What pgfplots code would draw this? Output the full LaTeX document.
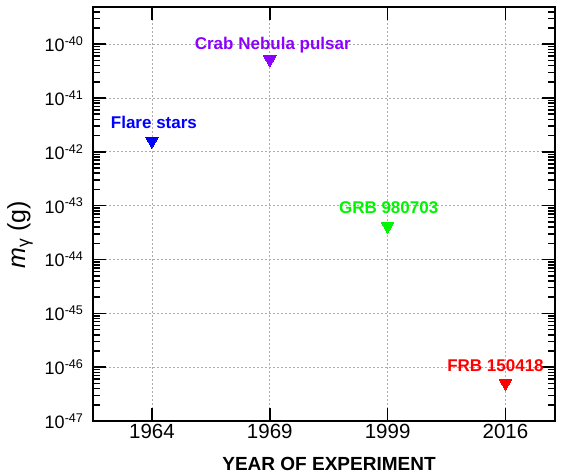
\documentclass[border=0pt]{standalone}
\usepackage{fontspec}
\setmainfont{Liberation Sans}
\usepackage{pgfplots}
\pgfplotsset{compat=1.18}
\definecolor{cflare}{RGB}{0,0,255}
\definecolor{ccrab}{RGB}{140,0,255}
\definecolor{cgrb}{RGB}{0,245,0}
\definecolor{cfrb}{RGB}{255,0,0}
\begin{document}
\begin{tikzpicture}
\useasboundingbox (0,0) rectangle (566pt,473pt);
\begin{axis}[
  at={(93pt,52pt)}, anchor=south west,
  scale only axis, width=462pt, height=414pt,
  ymode=log,
  xmin=0.5, xmax=4.42,
  ymin=1e-47, ymax=4.9e-40,
  xtick={1,2,3,4},
  xticklabels={1964,1969,1999,2016},
  ytick={1e-47,1e-46,1e-45,1e-44,1e-43,1e-42,1e-41,1e-40},
  yticklabels={10\textsuperscript{-47},10\textsuperscript{-46},10\textsuperscript{-45},10\textsuperscript{-44},10\textsuperscript{-43},10\textsuperscript{-42},10\textsuperscript{-41},10\textsuperscript{-40}},
  minor ytick={2e-47,3e-47,4e-47,5e-47,6e-47,7e-47,8e-47,9e-47,
               2e-46,3e-46,4e-46,5e-46,6e-46,7e-46,8e-46,9e-46,
               2e-45,3e-45,4e-45,5e-45,6e-45,7e-45,8e-45,9e-45,
               2e-44,3e-44,4e-44,5e-44,6e-44,7e-44,8e-44,9e-44,
               2e-43,3e-43,4e-43,5e-43,6e-43,7e-43,8e-43,9e-43,
               2e-42,3e-42,4e-42,5e-42,6e-42,7e-42,8e-42,9e-42,
               2e-41,3e-41,4e-41,5e-41,6e-41,7e-41,8e-41,9e-41,
               2e-40,3e-40,4e-40},
  tick align=inside,
  xtick pos=both, ytick pos=both,
  major tick length=13pt, minor tick length=7pt,
  every tick/.style={black, line width=1.6pt},
  axis line style={line width=2pt},
  grid=major,
  major grid style={gray!65, line width=0.8pt, dash pattern=on 2pt off 2pt},
  xticklabel style={font=\fontsize{20.5}{22}\selectfont},
  yticklabel style={font=\fontsize{18}{20}\selectfont, xshift=-6pt},
  xlabel={YEAR OF EXPERIMENT},
  xlabel style={font=\fontsize{19}{21}\selectfont\bfseries, at={(axis description cs:0.5,0)}, anchor=base, yshift=-49.5pt, xshift=5pt},
  ylabel={\textit{m}\textsubscript{γ} (g)},
  ylabel style={font=\fontsize{25}{27}\selectfont, at={(axis description cs:-0.13,0.45)}, anchor=south, inner sep=0pt},
  clip=false,
]
\addplot[only marks, mark=triangle*, mark options={rotate=180, fill=cflare, draw=cflare, line width=0pt}, mark size=7.2pt] coordinates {(1,1.6e-42)};
\addplot[only marks, mark=triangle*, mark options={rotate=180, fill=ccrab, draw=ccrab, line width=0pt}, mark size=7.2pt] coordinates {(2,5.2e-41)};
\addplot[only marks, mark=triangle*, mark options={rotate=180, fill=cgrb, draw=cgrb, line width=0pt}, mark size=7.2pt] coordinates {(3,4.2e-44)};
\addplot[only marks, mark=triangle*, mark options={rotate=180, fill=cfrb, draw=cfrb, line width=0pt}, mark size=7.2pt] coordinates {(4,5.1e-47)};
\node[anchor=base, text=cflare, font=\fontsize{17}{19}\selectfont\bfseries, xshift=2pt, yshift=12.7pt] at (axis cs:1,1.6e-42) {Flare stars};
\node[anchor=base, text=ccrab, font=\fontsize{17}{19}\selectfont\bfseries, xshift=3pt, yshift=9.7pt] at (axis cs:2,5.2e-41) {Crab Nebula pulsar};
\node[anchor=base, text=cgrb, font=\fontsize{17}{19}\selectfont\bfseries, xshift=1pt, yshift=12pt] at (axis cs:3,4.2e-44) {GRB 980703};
\node[anchor=base, text=cfrb, font=\fontsize{17}{19}\selectfont\bfseries, xshift=-10pt, yshift=11.3pt] at (axis cs:4,5.1e-47) {FRB 150418};
\end{axis}
\end{tikzpicture}
\end{document}
